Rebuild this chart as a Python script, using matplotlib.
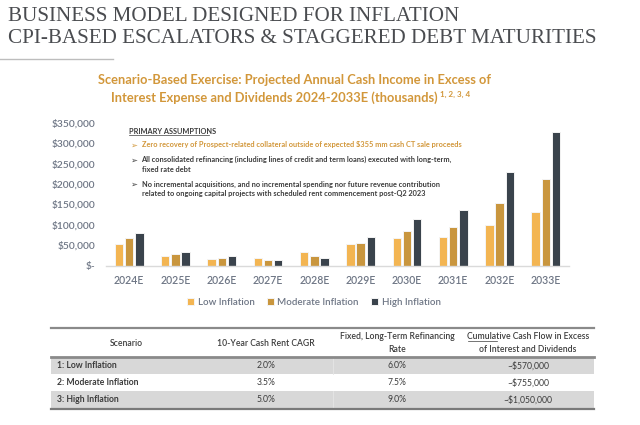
import numpy as np
import matplotlib.pyplot as plt
from matplotlib.patches import Rectangle
from matplotlib.ticker import FuncFormatter

# chart data (thousands of $)
years = ['2024E', '2025E', '2026E', '2027E', '2028E', '2029E', '2030E', '2031E', '2032E', '2033E']
low_inflation = [53000, 23700, 16400, 19600, 32800, 52000, 67800, 69500, 100400, 132200]
moderate_inflation = [67000, 28600, 19600, 14000, 23700, 56300, 84200, 94000, 152800, 213000]
high_inflation = [80800, 32800, 24500, 13200, 19600, 70300, 114300, 137100, 229400, 326600]
series_names = ['Low Inflation', 'Moderate Inflation', 'High Inflation']

# table data
table_header = ['Scenario', '10-Year Cash Rent CAGR', 'Fixed, Long-Term Refinancing\nRate',
                'Cumulative Cash Flow in Excess\nof Interest and Dividends']
scenarios = ['1: Low Inflation', '2: Moderate Inflation', '3: High Inflation']
rent_cagr = ['2.0%', '3.5%', '5.0%']
refi_rate = ['6.0%', '7.5%', '9.0%']
cumulative = ['~$570,000', '~$755,000', '~$1,050,000']

assumptions = [
    'Zero recovery of Prospect-related collateral outside of expected $355 mm cash CT sale proceeds',
    'All consolidated refinancing (including lines of credit and term loans) executed with long-term,\nfixed rate debt',
    'No incremental acquisitions, and no incremental spending nor future revenue contribution\nrelated to ongoing capital projects with scheduled rent commencement post-Q2 2023',
]

colors = ['#F3B552', '#C9963E', '#3A434C']
gold = '#D2973A'
grey_txt = '#6E7685'
dark_txt = '#3C3C3C'
sans = ['Lato', 'DejaVu Sans']

W, H = 640, 425
fig = plt.figure(figsize=(6.4, 4.25), dpi=100)

# overlay in pixel coords for the slide text and table
ov = fig.add_axes([0, 0, 1, 1])
ov.set_xlim(0, W)
ov.set_ylim(H, 0)
ov.axis('off')

ov.text(8, 16, 'BUSINESS MODEL DESIGNED FOR INFLATION', family='Liberation Serif',
        fontsize=15.2, color='#4A4C50', va='center', ha='left')
ov.text(8, 38, 'CPI-BASED ESCALATORS & STAGGERED DEBT MATURITIES', family='Liberation Serif',
        fontsize=15.2, color='#4A4C50', va='center', ha='left')
ov.plot([0, 113], [58.5, 58.5], color='#BDBDBD', lw=1)

ov.text(295, 80, 'Scenario-Based Exercise: Projected Annual Cash Income in Excess of',
        family=sans, fontsize=9.3, weight='bold', color=gold, ha='center', va='center')
ov.text(438, 98, 'Interest Expense and Dividends 2024-2033E (thousands)',
        family=sans, fontsize=9.3, weight='bold', color=gold, ha='right', va='center')
ov.text(439.5, 94, '1, 2, 3, 4', family=sans, fontsize=5.8, weight='bold', color=gold,
        ha='left', va='center')

# assumptions box
ov.text(129, 131, 'PRIMARY ASSUMPTIONS', family=sans, fontsize=5.3, weight='bold',
        color=dark_txt, va='center')
ov.plot([129, 209], [135, 135], color=dark_txt, lw=0.5)
bullet_y = [145, 160, 184.5]
for i, (txt, y) in enumerate(zip(assumptions, bullet_y)):
    c = gold if i == 0 else dark_txt
    ov.text(130, y, '\u27a2', family=['DejaVu Sans'], fontsize=6, color=c, va='center')
    ov.text(141.5, y - 4, txt, family=sans, fontsize=5.3, weight='bold', color=c,
            va='top', linespacing=1.45)

# table
tl, tr = 51, 594
ov.plot([tl, tr], [327.5, 327.5], color='#8A8A8A', lw=1.6)
col_x = [126, 266, 397, 528]
for x, h in zip(col_x, table_header):
    ov.text(x, 343, h, family=sans, fontsize=6.2, color=dark_txt, ha='center', va='center',
            linespacing=1.5, weight='semibold')
ov.plot([468, 497], [341.2, 341.2], color=dark_txt, lw=0.5)  # underline "Cumulative"
row_top = [357, 374.3, 391.3]
row_h = 17.2
for i in range(len(scenarios)):
    if i != 1:
        ov.add_patch(Rectangle((tl, row_top[i]), tr - tl, row_h, color='#D8D8D8', lw=0))
        ov.plot([333, 333], [row_top[i], row_top[i] + row_h], color='#E6E6E6', lw=0.6)
    yc = row_top[i] + row_h / 2
    ov.text(57, yc, scenarios[i], family=sans, fontsize=6.2, weight='bold', color=dark_txt, va='center')
    ov.text(col_x[1], yc, rent_cagr[i], family=sans, fontsize=6.2, color=dark_txt, ha='center', va='center')
    ov.text(col_x[2], yc, refi_rate[i], family=sans, fontsize=6.2, color=dark_txt, ha='center', va='center')
    ov.text(col_x[3], yc, cumulative[i], family=sans, fontsize=6.2, color=dark_txt, ha='center', va='center')
ov.plot([tl, tr], [356.8, 356.8], color='#8A8A8A', lw=2)
ov.plot([tl, tr], [408.5, 408.5], color='#7A7A7A', lw=1.6)

# bar chart
ax = fig.add_axes([106 / W, 1 - 265.7 / H, 463 / W, 143 / H])
ax.set_facecolor('none')
x = np.arange(len(years))
bw, step = 0.18, 0.22
for k, (vals, name) in enumerate(zip([low_inflation, moderate_inflation, high_inflation], series_names)):
    ax.bar(x + (k - 1) * step, vals, width=bw, color=colors[k], edgecolor='#F4F4F4',
           linewidth=0.7, label=name)
ax.set_xlim(-0.5, 9.5)
ax.set_ylim(0, 350000)
ax.set_yticks(np.arange(0, 350001, 50000))
ax.yaxis.set_major_formatter(FuncFormatter(lambda v, p: '$-' if v == 0 else '${:,.0f}'.format(v)))
ax.set_xticks(x)
ax.set_xticklabels(years)
for s in ['top', 'right', 'left']:
    ax.spines[s].set_visible(False)
ax.spines['bottom'].set_color('#DADADA')
ax.spines['bottom'].set_linewidth(1)
ax.tick_params(axis='y', length=0, pad=8, labelsize=7.4, labelcolor=grey_txt)
ax.tick_params(axis='x', length=0, pad=7, labelsize=7.6, labelcolor=grey_txt)
for t in ax.get_xticklabels() + ax.get_yticklabels():
    t.set_family(sans)
    t.set_weight('semibold')

leg = fig.legend(loc='center', bbox_to_anchor=(314 / W, 1 - 302.5 / H), ncol=3, frameon=False,
                 handlelength=0.7, handleheight=0.7, handletextpad=0.35, columnspacing=1.3,
                 prop={'family': sans, 'size': 7.0, 'weight': 'semibold'})
for t in leg.get_texts():
    t.set_color(grey_txt)

fig.savefig('out.png', dpi=100)
